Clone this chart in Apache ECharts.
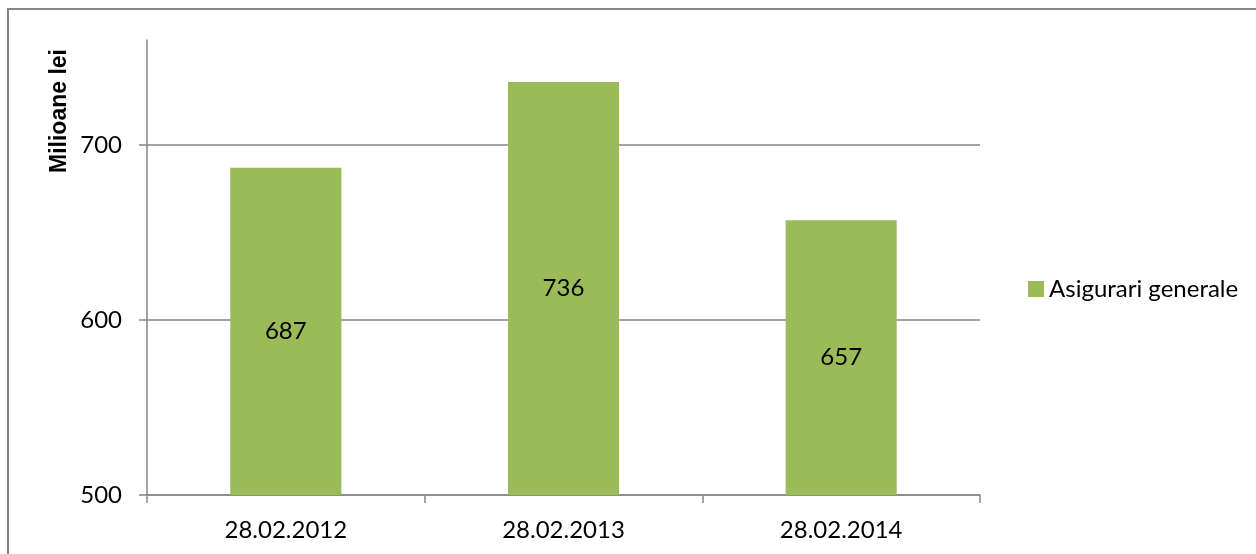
<!DOCTYPE html>
<html>
<head>
<meta charset="utf-8">
<script src="https://cdn.jsdelivr.net/npm/echarts@6/dist/echarts.min.js"></script>
<style>
  html, body { margin: 0; padding: 0; background: #fff; }
  #chart { width: 1256px; height: 554px; }
</style>
</head>
<body>
<div id="chart"></div>
<script>
// date de citire din grafic
const categories = ["28.02.2012", "28.02.2013", "28.02.2014"];
const values = [687, 736, 657];
const seriesName = "Asigurari generale";
const yTicks = [500, 600, 700];

const green = "#9bbb59";
const gray = "#868686";
const font = "Lato";

const chart = echarts.init(document.getElementById("chart"));

chart.setOption({
  animation: false,
  grid: { left: 147, right: 276, top: 40, bottom: 59 },
  legend: {
    left: 1023, top: 272,
    itemWidth: 16, itemHeight: 16,
    icon: "rect",
    textStyle: { fontFamily: font, fontSize: 24, color: "#000" },
    data: [seriesName]
  },
  graphic: [
    {
      type: "rect",
      shape: { x: 8, y: 9, width: 1300, height: 600 },
      style: { fill: "none", stroke: gray, lineWidth: 2 },
      silent: true
    },
    {
      type: "text",
      x: 60, y: 111,
      rotation: Math.PI / 2,
      style: {
        text: "Milioane lei",
        font: "bold 23px 'Liberation Sans'",
        fill: "#000",
        align: "center",
        verticalAlign: "middle"
      }
    }
  ],
  xAxis: {
    type: "category",
    data: categories,
    axisLine: { lineStyle: { color: gray, width: 1.5 } },
    axisTick: { show: true, length: 8, lineStyle: { color: gray, width: 1.5 } },
    axisLabel: { margin: 23, fontFamily: font, fontSize: 24, color: "#000" }
  },
  yAxis: {
    type: "value",
    min: 500, max: 760, interval: 100,
    startValue: 500,
    axisLine: { show: true, lineStyle: { color: gray, width: 1.5 } },
    axisTick: { show: true, length: 8, customValues: yTicks, lineStyle: { color: gray, width: 1.5 } },
    axisLabel: { margin: 25, customValues: yTicks, fontFamily: font, fontSize: 24, color: "#000" },
    splitLine: { show: true, lineStyle: { color: gray, width: 1.5 } }
  },
  series: [{
    name: seriesName,
    type: "bar",
    data: values,
    barWidth: "40%",
    itemStyle: { color: green },
    label: {
      show: true, position: "inside",
      fontFamily: font, fontSize: 24, color: "#000"
    }
  }]
});
</script>
</body>
</html>
